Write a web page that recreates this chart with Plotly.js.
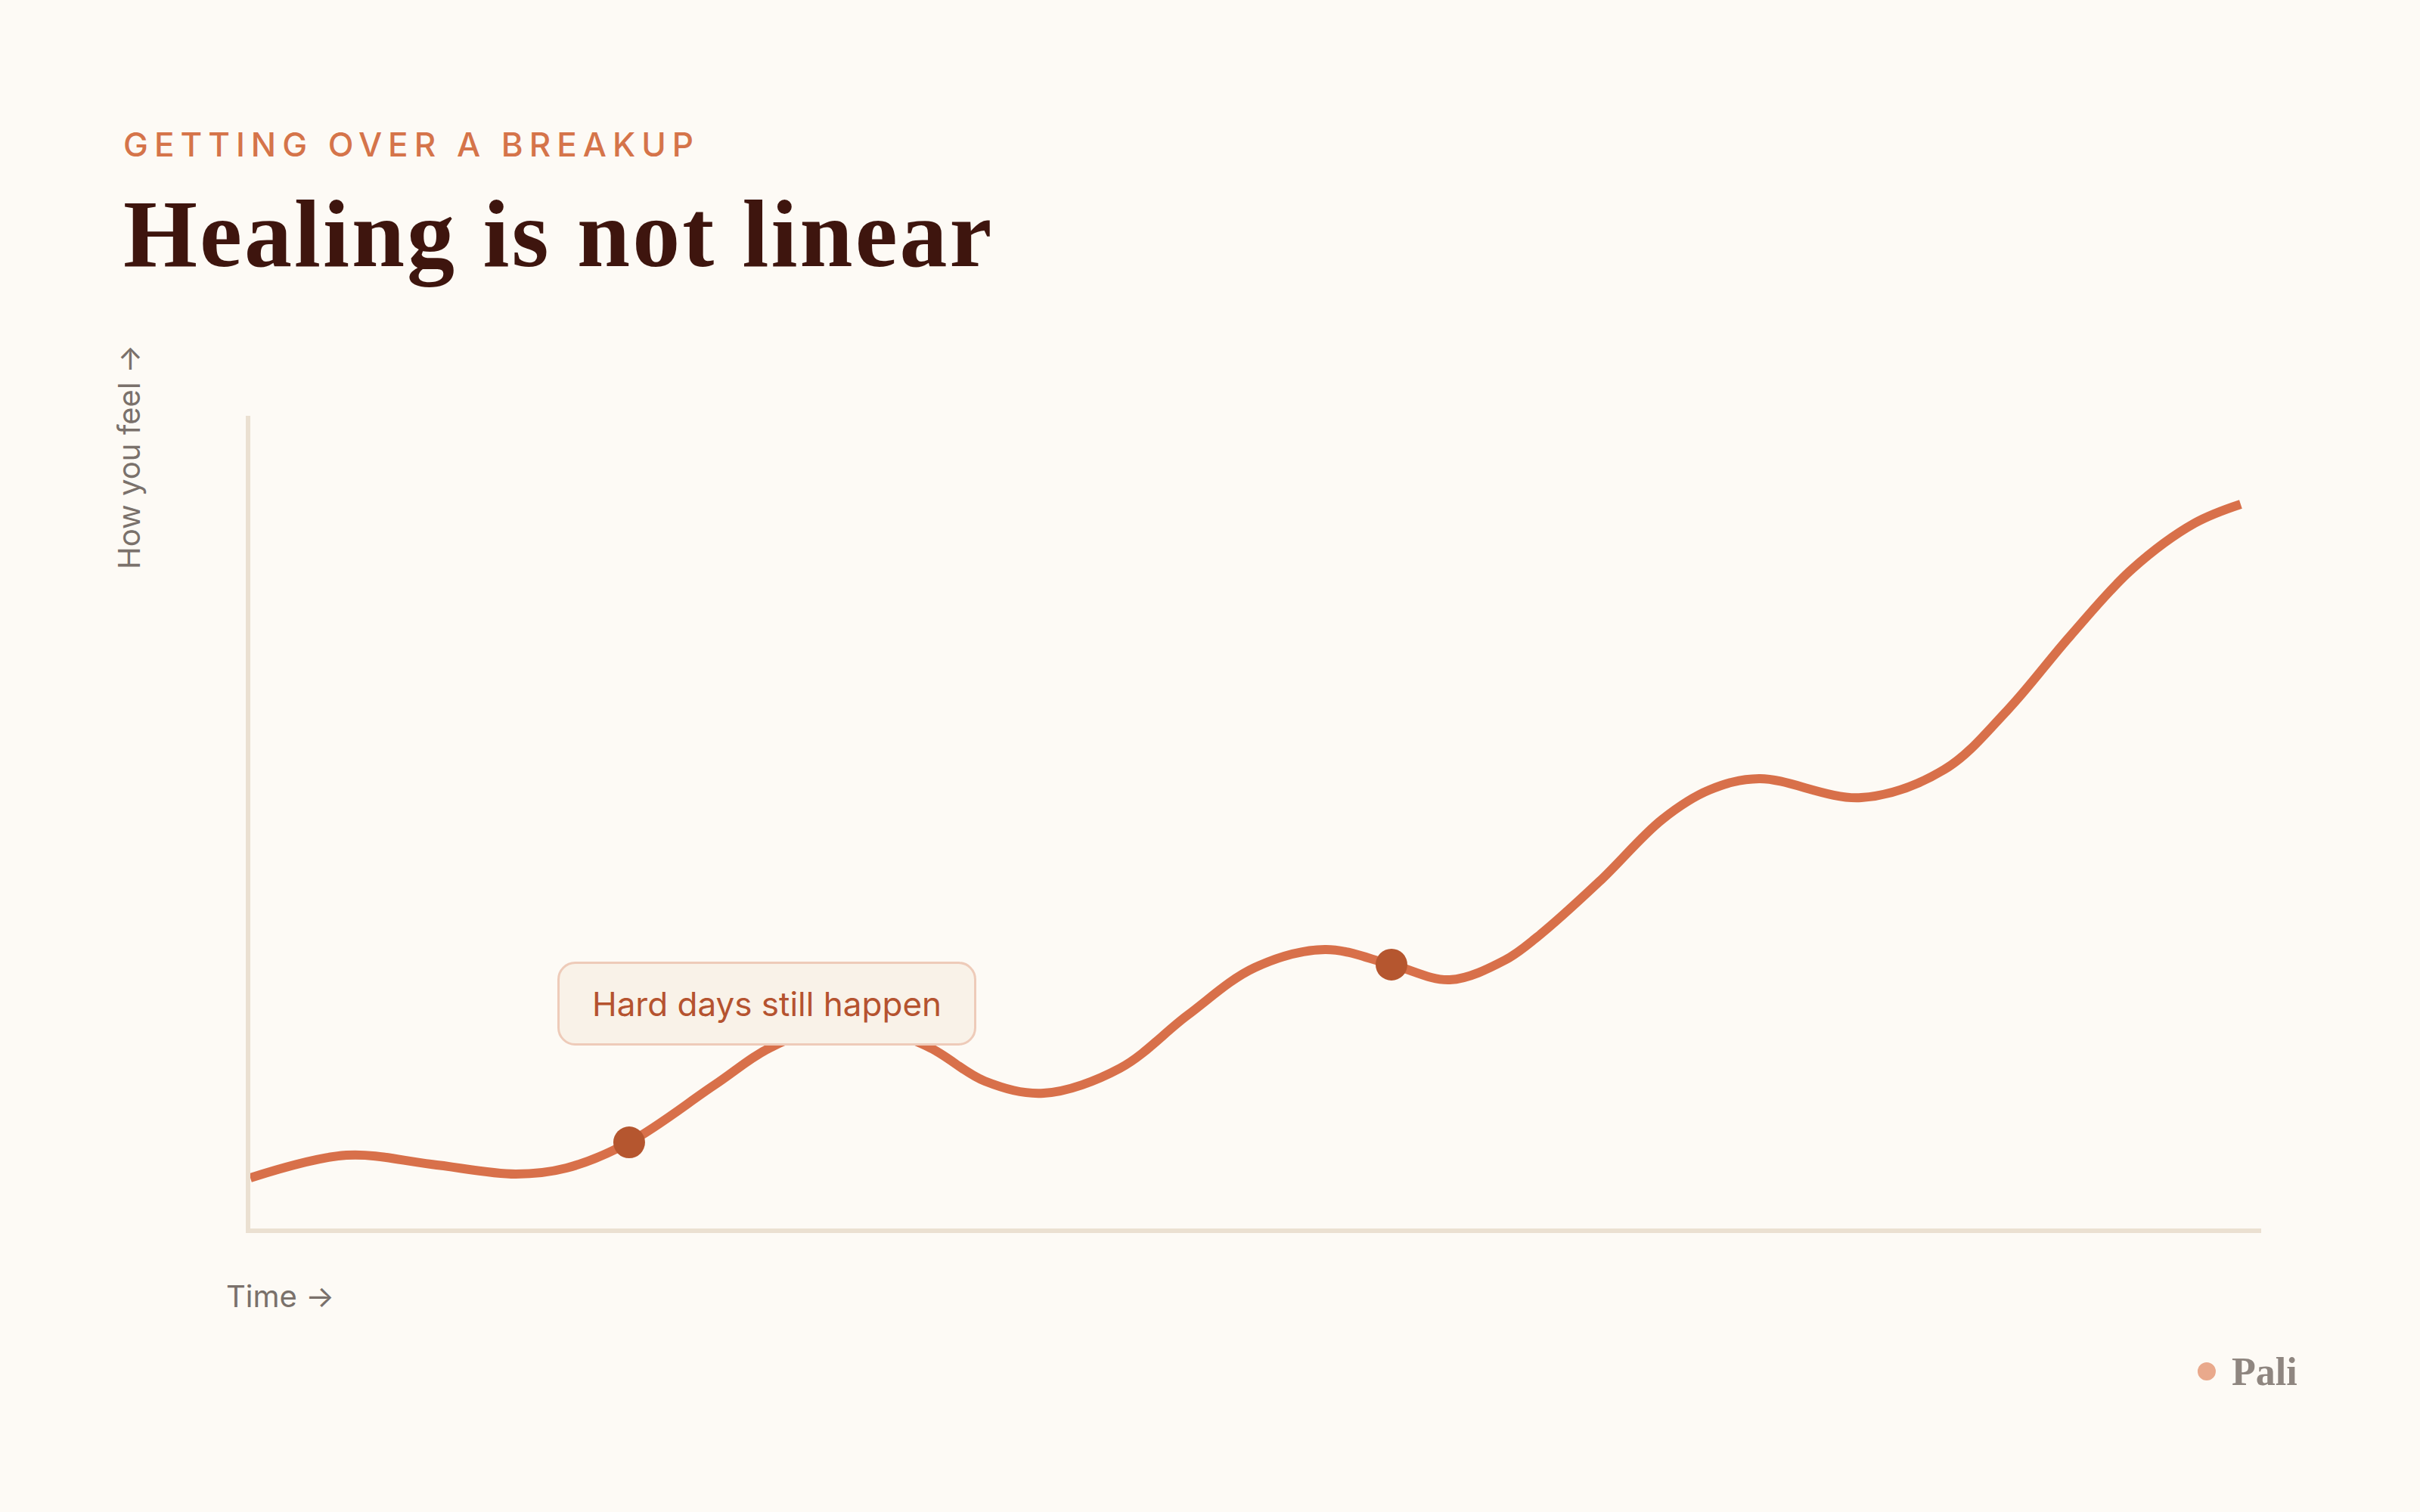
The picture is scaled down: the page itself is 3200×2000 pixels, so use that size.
<!DOCTYPE html>
<html>
<head>
<meta charset="utf-8">
<script src="https://cdn.plot.ly/plotly-3.0.1.min.js"></script>
<style>
  html, body { margin: 0; padding: 0; background: #FDFAF5; }
  #chart { width: 3200px; height: 2000px; }
</style>
</head>
<body>
<div id="chart"></div>
<script>
// ---- data ----
const timeValues = [
  0, 4.78, 8.99, 13.2, 15.72, 18.84, 23.09, 25.99, 29.86, 33.66, 36.52,
  39.45, 43.25, 46.6, 49.94, 53.44, 56.75, 59.65, 62.39, 63.97, 67.09,
  70.21, 72.55, 75.03, 80.11, 84.24, 87.36, 90.48, 93.57, 96.69, 98.98
];
const feelingValues = [
  6.23, 9.02, 7.91, 6.7, 7.44, 10.6, 17.67, 22.42, 25.4, 22.42, 18.14,
  16.65, 19.72, 26.23, 32.09, 34.33, 32.47, 30.6, 33.02, 35.81, 42.7,
  50.33, 53.95, 55.35, 53.02, 56.47, 63.72, 72.84, 81.12, 86.79, 89.12
];
const highlightTime    = [18.84, 56.75];
const highlightFeeling = [10.6, 32.47];
const calloutTime = 25.7;
const calloutFeeling = 27.7;

const kicker = 'GETTING OVER A BREAKUP';
const headline = 'Healing is not linear';
const yLabel = 'How you feel \u2192';
const xLabel = 'Time \u2192';
const calloutText = 'Hard days still happen';
const brand = 'Pali';

const SANS = 'Inter, "DejaVu Sans", sans-serif';
const SERIF = '"Liberation Serif", "DejaVu Serif", serif';

const traces = [
  {
    x: timeValues, y: feelingValues,
    type: 'scatter', mode: 'lines',
    line: { color: '#D8704A', width: 12, shape: 'spline', smoothing: 1, simplify: false },
    hoverinfo: 'skip'
  },
  {
    x: highlightTime, y: highlightFeeling,
    type: 'scatter', mode: 'markers',
    marker: { color: '#B5562F', size: 42, line: { width: 0 } },
    cliponaxis: false,
    hoverinfo: 'skip'
  }
];

const layout = {
  width: 3200, height: 2000,
  paper_bgcolor: '#FDFAF5', plot_bgcolor: '#FDFAF5',
  showlegend: false,
  margin: { l: 331, r: 210, t: 550, b: 375, pad: 0 },
  xaxis: {
    range: [0, 100], showgrid: false, zeroline: false, showticklabels: false, ticks: '',
    showline: true, linecolor: '#EBE0D1', linewidth: 6, fixedrange: true
  },
  yaxis: {
    range: [0, 100], showgrid: false, zeroline: false, showticklabels: false, ticks: '',
    showline: true, linecolor: '#EBE0D1', linewidth: 6, fixedrange: true
  },
  annotations: [
    { text: kicker, xref: 'paper', yref: 'paper', x: -0.0639, y: 1.334, xanchor: 'left', yanchor: 'middle',
      showarrow: false, font: { family: SANS, size: 44, color: '#D5744A', weight: 500 } },
    { text: headline, xref: 'paper', yref: 'paper', x: -0.0639, y: 1.2233, xanchor: 'left', yanchor: 'middle',
      showarrow: false, font: { family: SERIF, size: 126, color: '#3E150E', weight: 700 } },
    { text: yLabel, xref: 'paper', yref: 'paper', x: -0.0602, y: 0.9498, xanchor: 'center', yanchor: 'middle',
      textangle: -90, showarrow: false, font: { family: SANS, size: 40, color: '#7A716B' } },
    { text: xLabel, xref: 'paper', yref: 'paper', x: -0.0128, y: -0.0837, xanchor: 'left', yanchor: 'middle',
      showarrow: false, font: { family: SANS, size: 40, color: '#7A716B' } },
    { text: calloutText, xref: 'x', yref: 'y', x: calloutTime, y: calloutFeeling, xanchor: 'center', yanchor: 'middle',
      showarrow: false, width: 548, height: 105, borderpad: 0,
      bgcolor: '#F9F2E8', bordercolor: '#EECBB9', borderwidth: 3,
      font: { family: SANS, size: 44, color: '#B5532F' } },
    { text: brand, xref: 'paper', yref: 'paper', x: 0.9845, y: -0.176, xanchor: 'left', yanchor: 'middle',
      showarrow: false, font: { family: SERIF, size: 52, color: '#8F8680', weight: 700 } }
  ],
  shapes: [
    { type: 'circle', xref: 'paper', yref: 'paper', xsizemode: 'pixel', ysizemode: 'pixel',
      xanchor: 0.9729, yanchor: -0.1758, x0: -12, x1: 12, y0: -12, y1: 12,
      fillcolor: '#E9A98C', line: { width: 0 } }
  ]
};

function trackLeft(t, spacing) {
  const bb = t.getBBox();
  t.style.letterSpacing = spacing;
  t.setAttribute('text-anchor', 'start');
  t.setAttribute('x', bb.x);
  t.querySelectorAll('tspan.line').forEach(function (sp) { sp.setAttribute('x', bb.x); });
}

Plotly.newPlot('chart', traces, layout, { staticPlot: true, displayModeBar: false }).then(function () {
  document.querySelectorAll('.annotation').forEach(function (g) {
    const t = g.querySelector('text.annotation-text');
    if (!t) return;
    const s = t.textContent;
    if (s === kicker) trackLeft(t, '8px');
    if (s === headline) trackLeft(t, '3px');
    if (s === calloutText) {
      const r = g.querySelector('rect.bg');
      if (r) { r.setAttribute('rx', 22); r.setAttribute('ry', 22); }
    }
  });
});
</script>
</body>
</html>
